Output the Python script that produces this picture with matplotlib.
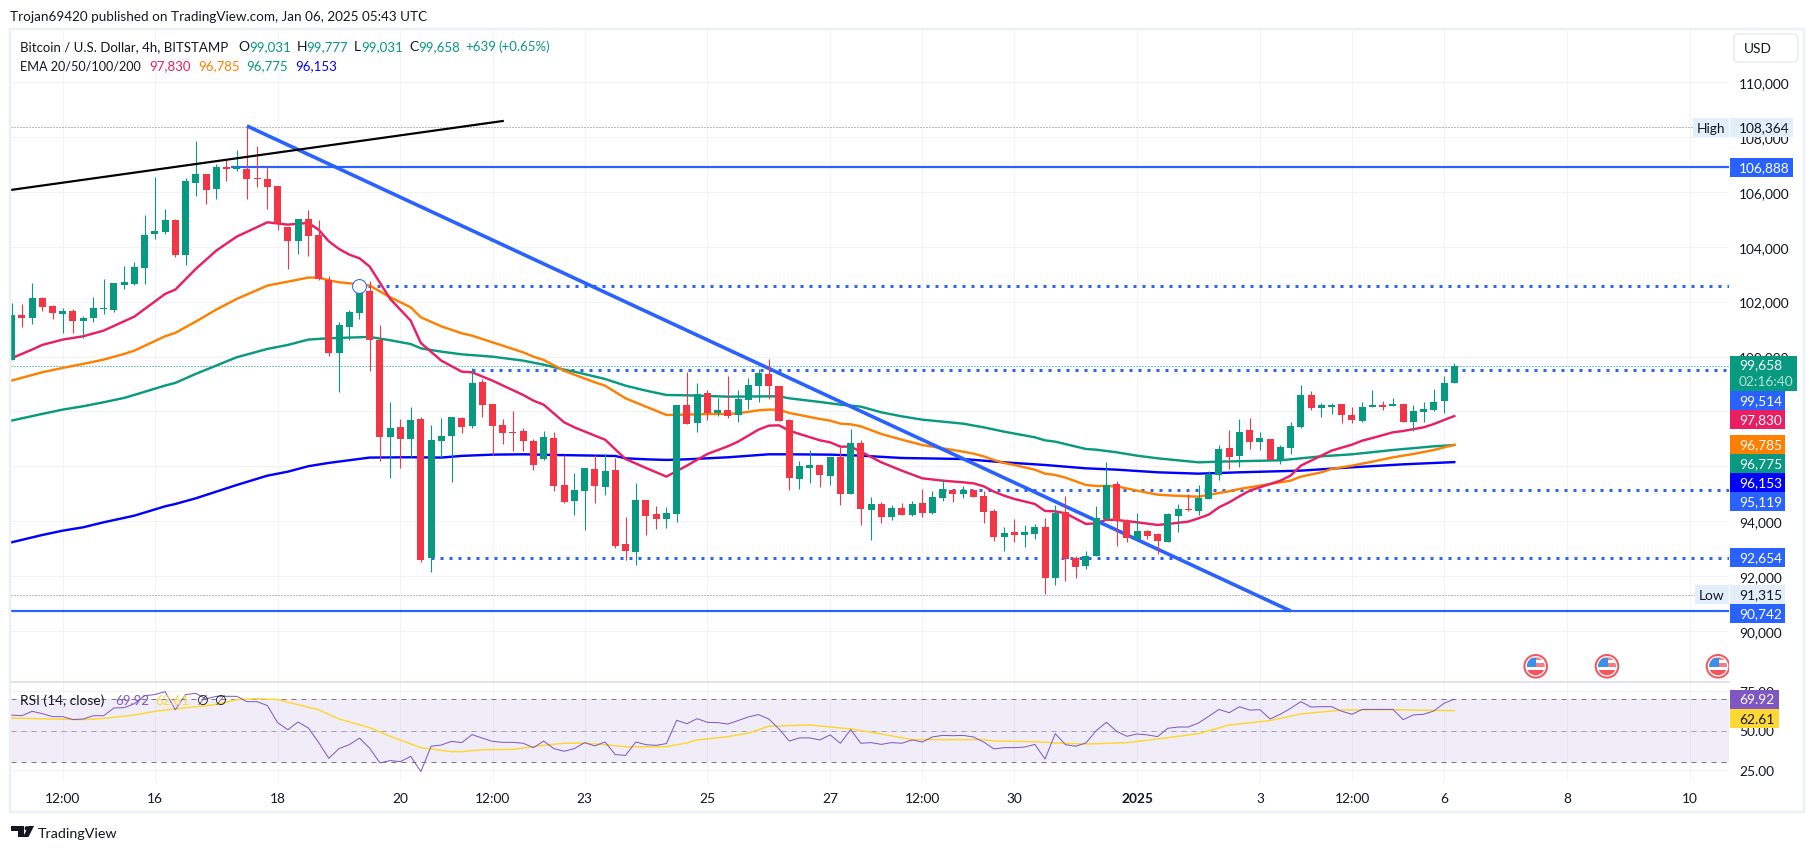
import matplotlib
matplotlib.use('Agg')
import matplotlib.pyplot as plt
from matplotlib.patches import Rectangle, Circle, Polygon, FancyBboxPatch

plt.rcParams['font.family'] = ['Lato', 'DejaVu Sans']

# candles, 4h, oldest first
opens = [99875, 101514, 101405, 102133, 101842, 101551, 101660, 101296, 101405, 101733,
         101696, 102607, 102643, 103226, 104464, 104537, 104974, 103699, 106322, 106649,
         106103, 106904, 106844, 106832, 106504, 106467, 106212, 104719, 104209, 105011,
         104428, 102789, 100130, 101077, 101587, 102388, 100604, 97068, 97433, 96996,
         97724, 92662, 96923, 97105, 97760, 97469, 99072, 98270, 97505, 97250,
         97287, 96923, 96267, 97032, 95320, 94738, 95102, 95903, 95248, 95867,
         93171, 92880, 94774, 94264, 94082, 94264, 98234, 97578, 98671, 97943,
         98052, 97870, 98416, 98926, 99363, 98926, 97688, 95539, 95939, 96049,
         95648, 96340, 94992, 96850, 94409, 94628, 94154, 94482, 94227, 94664,
         94300, 94846, 95137, 94992, 95137, 94919, 94373, 93426, 93608, 93498,
         93535, 93790, 91932, 94336, 92661, 92370, 92734, 94081, 95356, 94045,
         93353, 93644, 93535, 93244, 94190, 94445, 94373, 94810, 95684, 96667,
         96376, 97323, 96886, 96995, 96230, 96667, 97432, 98597, 98124, 98160,
         98270, 97869, 97651, 98160, 98233, 98197, 98270, 97614, 97978, 98051,
         98379, 99031]
highs = [101951, 101915, 102680, 102170, 101878, 101757, 101733, 101478, 102170, 102825,
         102680, 103299, 103444, 105156, 106540, 105375, 105011, 106504, 107851, 106649,
         107014, 107147, 107524, 108364, 107669, 106904, 106212, 104719, 105011, 105338,
         104974, 102935, 101259, 101696, 102643, 102753, 101150, 98343, 97724, 98161,
         97797, 97505, 97760, 97797, 97797, 99581, 99181, 98270, 97724, 98015,
         97396, 96996, 97287, 97250, 96413, 95757, 95939, 96413, 96449, 96304,
         94155, 95393, 94774, 94555, 94519, 98234, 99436, 99035, 98780, 98489,
         99290, 98780, 99217, 99545, 99909, 98926, 97724, 96194, 96595, 96049,
         96340, 96777, 97360, 96959, 94882, 94700, 94591, 94664, 94737, 95174,
         95101, 95538, 95137, 95283, 95137, 95101, 94445, 93790, 94081, 93863,
         93899, 94118, 94591, 94919, 92734, 92916, 94555, 96157, 95465, 94081,
         94300, 93681, 93571, 94300, 94628, 94992, 95319, 95829, 96776, 97323,
         97723, 97760, 97250, 96995, 96776, 97614, 98962, 98743, 98306, 98306,
         98270, 98160, 98343, 98780, 98379, 98488, 98270, 98233, 98343, 98816,
         99289, 99777]
lows = [99875, 101077, 101186, 101660, 101369, 100859, 100859, 100689, 101259, 101551,
        101623, 102461, 102607, 102643, 104282, 104464, 103627, 103335, 105848, 105557,
        105739, 106395, 106759, 105739, 106176, 105375, 104610, 103190, 103736, 103663,
        102789, 100021, 98710, 100604, 101369, 99475, 96197, 95575, 95939, 96340,
        92516, 92152, 96304, 95430, 97214, 97396, 97797, 96413, 96814, 96559,
        96559, 95867, 96231, 95102, 94665, 94228, 93681, 94665, 94956, 93026,
        92589, 92407, 93499, 93718, 93754, 93973, 97542, 97250, 97688, 97833,
        97760, 97615, 98088, 98343, 98452, 97651, 95138, 95175, 95393, 95248,
        95320, 94592, 94992, 93863, 93316, 93936, 94045, 94227, 94190, 94154,
        94263, 94737, 94700, 94846, 94882, 93936, 93280, 92916, 93244, 93061,
        93353, 91350, 91677, 91823, 91932, 92260, 92734, 94081, 93098, 93244,
        93353, 93353, 92807, 93244, 93608, 94373, 94227, 94810, 95502, 95902,
        95975, 96631, 96594, 96230, 96085, 96449, 97396, 98051, 97796, 97905,
        97578, 97578, 97614, 98160, 98051, 98197, 97614, 97286, 97614, 98015,
        97942, 99031]
closes = [101514, 101417, 102133, 101806, 101587, 101660, 101296, 101405, 101769, 101769,
          102680, 102716, 103262, 104428, 104574, 104974, 103699, 106395, 106649, 106067,
          106904, 106844, 106904, 106467, 106467, 106176, 104865, 104209, 105011, 104391,
          102825, 100130, 101150, 101623, 102316, 100604, 97071, 97396, 96996, 97688,
          92601, 96959, 97105, 97797, 97433, 99035, 98234, 97469, 97214, 97214,
          96923, 96049, 97068, 95284, 94701, 95138, 95939, 95284, 95830, 93099,
          92917, 94774, 94191, 94082, 94301, 98234, 97542, 98635, 97943, 98052,
          97833, 98452, 98962, 99399, 98926, 97651, 95575, 96012, 96049, 95684,
          96340, 94992, 96850, 94446, 94628, 94154, 94482, 94227, 94628, 94300,
          94882, 95174, 94992, 95137, 94882, 94336, 93426, 93571, 93498, 93608,
          93790, 91932, 94300, 92624, 92333, 92734, 94118, 95319, 94008, 93389,
          93644, 93462, 93280, 94263, 94445, 94409, 94846, 95720, 96631, 96339,
          97250, 96886, 97031, 96230, 96704, 97468, 98597, 98124, 98233, 98233,
          97869, 97687, 98160, 98233, 98160, 98270, 97614, 98015, 98088, 98343,
          99034, 99658]

# moving averages, read at the candles where the line bends
ema20_x = [0, 2, 3, 5, 7, 9, 12, 15, 16, 18, 20, 22, 25, 27, 29, 30, 31, 32, 33, 34, 35, 37, 39,
           40, 42, 44, 45, 47, 50, 51, 52, 54, 55, 57, 58, 60, 62, 64, 66, 68, 70, 71, 73, 74, 75, 76, 77, 79, 80, 81, 82, 83,
           85, 87, 89, 91, 93, 94, 95, 96, 97, 98, 100, 101, 102, 103, 105, 106, 107, 108, 110, 112, 113, 115,
           116, 117, 118, 119, 120, 121, 123, 124, 125, 126, 128, 129, 131, 132, 133, 135, 136, 138, 139, 140, 141]
ema20_y = [99936, 100252, 100422, 100616, 100737, 100944, 101454, 102279, 102437, 103190, 103857, 104367, 104889, 104804, 104865, 104622, 104197, 103918, 103712, 103578, 103275, 102097, 101308,
           100492, 99848, 99448, 99424, 99120, 98598, 98392, 98246, 97603, 97420, 97117, 96971, 96267, 95939, 95624, 96024, 96449, 96729, 96898, 97336, 97481, 97493, 97299, 97178, 96947, 96874, 96716, 96716, 96534,
           96145, 95842, 95562, 95477, 95417, 95380, 95271, 95077, 94931, 94810, 94628, 94373, 94360, 94288, 93899, 93923, 94057, 94045, 93960, 93863, 93899, 93984,
           94106, 94239, 94506, 94688, 94907, 95113, 95356, 95478, 95660, 96024, 96388, 96570, 96789, 96934, 97031, 97238, 97286, 97420, 97541, 97687, 97830]
ema50_x = [0, 3, 5, 7, 9, 11, 12, 15, 16, 18, 20, 22, 25, 27, 29, 30, 31, 32, 33, 35, 37, 39, 40,
           42, 44, 45, 47, 50, 51, 52, 54, 55, 57, 58, 60, 62, 64, 66, 68, 70, 71, 73, 74, 75, 76, 77, 79, 80, 81, 82, 83,
           85, 87, 89, 91, 93, 94, 95, 96, 97, 98, 100, 101, 102, 103, 105, 106, 107, 108, 110, 112, 113, 115,
           116, 118, 119, 120, 121, 123, 125, 126, 128, 129, 131, 133, 135, 137, 139, 141]
ema50_y = [99123, 99426, 99584, 99730, 99887, 100094, 100215, 100737, 100859, 101272, 101709, 102097, 102583, 102728, 102874, 102874, 102777, 102704, 102668, 102583, 102158, 101793, 101429,
           101099, 100844, 100759, 100516, 100152, 99994, 99873, 99484, 99339, 99059, 98938, 98477, 98173, 97870, 97882, 97906, 97906, 97930, 98040, 98064, 98064, 97943, 97870, 97724, 97663, 97554, 97530, 97457,
           97177, 96970, 96776, 96655, 96533, 96461, 96364, 96230, 96121, 96048, 95878, 95732, 95684, 95587, 95319, 95283, 95283, 95271, 95113, 94967, 94943, 94907,
           94894, 95028, 95089, 95174, 95235, 95356, 95478, 95623, 95781, 95902, 96024, 96169, 96327, 96449, 96594, 96785]
ema100_x = [0, 3, 5, 7, 9, 11, 12, 15, 16, 18, 20, 22, 25, 27, 29, 31, 33, 35, 37, 39,
            40, 42, 44, 47, 50, 52, 54, 55, 58, 60, 62, 64, 66, 70, 74, 75, 76, 79, 81, 83,
            85, 87, 89, 91, 93, 95, 97, 100, 101, 102, 105, 106, 108, 110, 112, 115,
            116, 118, 121, 124, 126, 128, 131, 135, 139, 141]
ema100_y = [97666, 97909, 98066, 98188, 98334, 98491, 98601, 98941, 99038, 99366, 99669, 99972, 100276, 100422, 100616, 100665, 100689, 100713, 100592, 100455,
            100298, 100176, 100079, 99994, 99849, 99703, 99521, 99448, 99181, 98938, 98756, 98598, 98586, 98537, 98549, 98549, 98477, 98343, 98246, 98173,
            97966, 97820, 97699, 97626, 97553, 97420, 97262, 97056, 96946, 96898, 96631, 96606, 96509, 96388, 96291, 96181,
            96145, 96169, 96194, 96218, 96291, 96364, 96437, 96594, 96728, 96775]
ema200_x = [0, 3, 5, 7, 9, 12, 15, 16, 18, 20, 22, 25, 27, 29, 31, 35, 39, 42, 44, 47,
            50, 53, 57, 59, 60, 62, 64, 66, 70, 74, 76, 80, 83, 87, 93, 97, 101, 105, 108, 112,
            116, 120, 126, 131, 136, 141]
ema200_y = [93231, 93498, 93656, 93778, 93960, 94202, 94542, 94627, 94834, 95076, 95319, 95659, 95805, 96003, 96124, 96318, 96330, 96318, 96379, 96425,
            96437, 96413, 96389, 96376, 96291, 96255, 96231, 96255, 96328, 96437, 96437, 96425, 96388, 96303, 96266, 96145, 96048, 95926, 95878, 95781,
            95732, 95781, 95842, 95963, 96072, 96153]

rsi = [59.8, 59.4, 62.2, 60.7, 58.8, 58.8, 56.9, 57.3, 59.4, 59.4, 64.3, 64.5, 67.0, 72.1, 72.8, 74.7, 63.2, 72.8, 73.6, 70.0,
       71.7, 71.7, 71.7, 68.3, 68.3, 65.8, 55.0, 50.5, 55.4, 51.6, 42.5, 32.3, 38.5, 41.0, 45.2, 38.7, 29.4, 30.9, 30.2, 33.6,
       23.9, 40.0, 40.8, 43.1, 42.3, 47.4, 45.2, 43.1, 42.5, 42.5, 41.9, 39.1, 43.3, 38.5, 36.8, 38.5, 42.3, 40.2, 42.7, 34.7,
       34.2, 42.7, 41.0, 40.6, 41.7, 56.5, 54.3, 57.5, 55.2, 55.0, 54.1, 56.3, 58.6, 60.1, 57.3, 51.0, 43.3, 45.3, 45.3, 44.0,
       47.2, 41.9, 50.5, 41.9, 42.3, 41.2, 42.3, 41.9, 44.0, 42.7, 45.9, 46.9, 46.7, 46.9, 45.9, 42.7, 38.3, 39.1, 39.1, 39.5,
       41.2, 31.9, 48.0, 41.0, 40.0, 42.1, 49.9, 55.2, 49.5, 46.3, 47.8, 47.2, 46.1, 51.4, 52.2, 52.2, 54.8, 59.0, 63.4, 61.3,
       65.1, 63.0, 63.2, 57.3, 60.3, 64.1, 68.3, 64.9, 65.1, 65.1, 62.2, 60.3, 63.4, 63.4, 63.4, 63.4, 56.9, 59.9, 60.3, 62.4,
       67.3, 69.92]
rsi_ma_x = [0, 4, 7, 9, 12, 14, 16, 18, 20, 22, 24, 26, 28, 30, 32, 35, 37, 40, 43, 44, 46, 49, 52, 54, 56, 58, 60, 64, 66,
            67, 70, 72, 74, 78, 82, 85, 88, 95, 96, 100, 102, 105, 109, 112, 116, 119, 123, 126, 130, 135, 141]
rsi_ma_y = [57.9, 57.3, 56.9, 57.7, 59.8, 62.2, 63.7, 65.1, 66.6, 69.6, 70.2, 69.6, 66.4, 63.2, 57.3, 51.8, 46.3, 39.1, 36.6, 36.6, 37.8, 38.0, 40.6, 41.9, 41.9, 41.0, 39.7, 39.7, 42.1,
            44.0, 46.1, 48.4, 52.7, 53.5, 51.0, 47.8, 44.2, 44.2, 43.3, 42.9, 42.1, 41.4, 42.3, 44.6, 48.0, 53.5, 56.3, 60.5, 63.0, 63.2, 62.61]

price_ticks = [110000, 108000, 106000, 104000, 102000, 100000, 98000, 96000, 94000, 92000, 90000]
# 98,000 and 96,000 sit fully under the price tags
price_labels = ['110,000', '108,000', '106,000', '104,000', '102,000', '100,000', '', '', '94,000', '92,000', '90,000']
rsi_ticks = [75, 50, 25]
time_ticks = [5, 14, 26, 38, 47, 56, 68, 80, 89, 98, 110, 122, 131, 140, 152, 164]
time_labels = ['12:00', '16', '18', '20', '12:00', '23', '25', '27', '12:00', '30', '2025', '3', '12:00', '6', '8', '10']

last_price = 99658
high_price = 108364
low_price = 91315
hline_solid = [106888, 90742]
# dotted level and the candle it starts from
dotted_levels = [102568, 99514, 95119, 92654]
dotted_starts = [34, 45, 91, 41]
# drawn trend lines, (candle, price) ends
black_x = [-0.1, 48]
black_y = [106066, 108579]
blue_x = [23, 125]
blue_y = [108400, 90730]

GREEN = '#089981'
RED = '#F23645'
BLUE = '#2962FF'
PINK = '#E91E63'
ORANGE = '#FF7F00'
EMA_BLUE = '#0000FF'
PURPLE = '#7E57C2'
YELLOW = '#FDD835'
TEXT = '#131722'
GRID = '#f2f3f6'
W, H = 1814, 853
PX = 0.72  # one pixel in points at dpi 100

# pixel scale of the picture
X0, DX = 11.6, 10.232
Y110K, PX_PER_USD = 83, 0.02745
def x_data(px):
    return (px - X0) / DX
def price_at(py):
    return 110000 - (py - Y110K) / PX_PER_USD
def rsi_at(py):
    return 50 + (731.5 - py) / 1.575
def axes_rect(left, top, right, bottom):
    return [left / W, 1 - bottom / H, (right - left) / W, (bottom - top) / H]

fig = plt.figure(figsize=(W / 100, H / 100), dpi=100)
ax = fig.add_axes(axes_rect(11, 31, 1729, 683))
ax_rsi = fig.add_axes(axes_rect(11, 684, 1729, 782))

AXIS_FS = 9.9
for a in (ax, ax_rsi):
    a.set_xlim(x_data(11), x_data(1729))
    a.set_xticks(time_ticks)
    a.grid(True, color=GRID, lw=PX, zorder=0)
    a.set_axisbelow(True)
    a.yaxis.tick_right()
    for s in a.spines.values():
        s.set_visible(False)

ax.set_ylim(price_at(683), price_at(31))
ax.set_yticks(price_ticks)
ax.set_yticklabels(price_labels)
ax.tick_params(axis='x', length=0, labelbottom=False)
ax.tick_params(axis='y', length=0, pad=7.2, labelsize=AXIS_FS, labelcolor=TEXT)

# levels
ax.axhline(high_price, color='#787b86', lw=PX, ls=(0, (1, 2)), zorder=2)
ax.axhline(low_price, color='#787b86', lw=PX, ls=(0, (1, 2)), zorder=2)
ax.axhline(last_price, color=GREEN, lw=PX, ls=(0, (1, 2)), zorder=2)
ax.plot([21.5, x_data(1729)], [hline_solid[0]] * 2, color=BLUE, lw=2.2 * PX, zorder=2)
ax.plot([x_data(11), x_data(1729)], [hline_solid[1]] * 2, color=BLUE, lw=2.2 * PX, zorder=2)
for level, start in zip(dotted_levels, dotted_starts):
    ax.plot([start, x_data(1729)], [level, level], color=BLUE, lw=3 * PX, ls=(0, (1, 2)), zorder=2)

# EMAs
ax.plot(ema200_x, ema200_y, color=EMA_BLUE, lw=2.4 * PX, zorder=3)
ax.plot(ema100_x, ema100_y, color=GREEN, lw=2.4 * PX, zorder=3)
ax.plot(ema50_x, ema50_y, color=ORANGE, lw=2.4 * PX, zorder=3)
ax.plot(ema20_x, ema20_y, color=PINK, lw=2.4 * PX, zorder=3)

ax.plot(blue_x, blue_y, color=BLUE, lw=3.6 * PX, zorder=4, solid_capstyle='butt')

# candles
idx = list(range(len(opens)))
colors = [GREEN if c >= o else RED for o, c in zip(opens, closes)]
ax.vlines(idx, lows, highs, colors=colors, lw=1.1 * PX, zorder=5)
ax.bar(idx, [abs(c - o) for o, c in zip(opens, closes)], bottom=[min(o, c) for o, c in zip(opens, closes)],
       width=7 / DX, color=colors, lw=0, zorder=5)

ax.plot(black_x, black_y, color='black', lw=2.2 * PX, zorder=6)
ax.plot([34], [102568], 'o', ms=10, mfc='white', mec=BLUE, mew=PX, zorder=7)

# rsi pane
ax_rsi.set_ylim(rsi_at(782), rsi_at(684))
ax_rsi.set_yticks(rsi_ticks)
ax_rsi.set_yticklabels([f'{v:.2f}' for v in rsi_ticks])
ax_rsi.set_xticklabels(time_labels)
ax_rsi.tick_params(axis='y', length=0, pad=7.2, labelsize=AXIS_FS, labelcolor=TEXT)
ax_rsi.tick_params(axis='x', length=0, pad=8, labelsize=AXIS_FS, labelcolor=TEXT)
for lab in ax_rsi.get_xticklabels():
    if lab.get_text() == '2025':
        lab.set_fontweight('bold')
ax_rsi.axhspan(30, 70, color=PURPLE, alpha=0.1, lw=0, zorder=1)
ax_rsi.axhline(70, color='#787b86', lw=PX, ls=(0, (5, 5)), zorder=2)
ax_rsi.axhline(50, color='#787b86', alpha=0.6, lw=PX, ls=(0, (5, 5)), zorder=2)
ax_rsi.axhline(30, color='#787b86', lw=PX, ls=(0, (5, 5)), zorder=2)
ax_rsi.plot(rsi_ma_x, rsi_ma_y, color=YELLOW, lw=1.5 * PX, zorder=3)
ax_rsi.plot(idx, rsi, color=PURPLE, lw=PX, zorder=4)

# page furniture in pixel coordinates
page = fig.add_axes([0, 0, 1, 1], facecolor='none')
page.set_xlim(0, W)
page.set_ylim(H, 0)
page.axis('off')

page.add_patch(Rectangle((10, 30), 1793.5, 783, fill=False, ec='#eef0f7', lw=2.5 * PX))
page.plot([11, 1729], [683, 683], color='#e3e3f0', lw=2 * PX)

FS = 9.9
NUM_FS = 9.5
page.text(10, 17, 'Trojan69420 published on TradingView.com, Jan 06, 2025 05:43 UTC', fontsize=9.7, color=TEXT, va='center')
legend1 = [(20, 'Bitcoin / U.S. Dollar, 4h, BITSTAMP', TEXT, 9.5), (238, 'O', TEXT, FS), (249, '99,031', GREEN, NUM_FS),
           (297, 'H', TEXT, FS), (306, '99,777', GREEN, NUM_FS), (354, 'L', TEXT, FS), (361, '99,031', GREEN, NUM_FS),
           (409, 'C', TEXT, FS), (418, '99,658', GREEN, NUM_FS), (465, '+639', GREEN, NUM_FS), (498, '(+0.65%)', GREEN, NUM_FS)]
for x, s, c, size in legend1:
    page.text(x, 47, s, fontsize=size, color=c, va='center')
legend2 = [(20, 'EMA 20/50/100/200', TEXT, 9.1), (149, '97,830', PINK, NUM_FS), (198, '96,785', ORANGE, NUM_FS),
           (246, '96,775', GREEN, NUM_FS), (295, '96,153', EMA_BLUE, NUM_FS)]
for x, s, c, size in legend2:
    page.text(x, 66, s, fontsize=size, color=c, va='center')
legend3 = [(20, 'RSI (14, close)', TEXT, FS), (115, '69.92', PURPLE, NUM_FS), (155, '62.61', YELLOW, NUM_FS),
           (197, '∅', TEXT, FS), (215, '∅', TEXT, FS)]
for x, s, c, size in legend3:
    page.text(x, 701, s, fontsize=size, color=c, va='center')

def tag(text, top, right, bg, fg='white', left=1730):
    page.add_patch(Rectangle((left, top), right - left, 19, fc=bg, ec='none'))
    page.text(left + 9, top + 9.5, text, fontsize=AXIS_FS, color=fg, va='center')

page.add_patch(Rectangle((1730, 357), 67, 35, fc=GREEN, ec='none'))
page.text(1739, 365.5, '99,658', fontsize=AXIS_FS, color='white', va='center')
page.text(1739, 382, '02:16:40', fontsize=AXIS_FS, color='#b5e0d8', va='center')
tag('108,364', 119, 1793, '#e3eefb', TEXT)
tag('106,888', 159, 1793, BLUE)
tag('99,514', 392, 1785, BLUE)
tag('97,830', 411, 1785, PINK)
tag('96,785', 436, 1785, ORANGE)
tag('96,775', 455, 1785, GREEN)
tag('96,153', 474, 1785, EMA_BLUE)
tag('95,119', 493, 1785, BLUE)
tag('92,654', 549, 1785, BLUE)
tag('91,315', 586, 1785, '#e3eefb', TEXT)
tag('90,742', 605, 1785, BLUE)
tag('69.92', 691, 1779, PURPLE)
tag('62.61', 710, 1779, YELLOW, TEXT)
page.add_patch(Rectangle((1693, 119), 36, 19, fc='#e3eefb', ec='none'))
page.text(1711, 128.5, 'High', fontsize=AXIS_FS, color=TEXT, va='center', ha='center')
page.add_patch(Rectangle((1695, 586), 34, 19, fc='#e3eefb', ec='none'))
page.text(1712, 595.5, 'Low', fontsize=AXIS_FS, color=TEXT, va='center', ha='center')

page.add_patch(FancyBboxPatch((1737, 38), 58, 22, boxstyle='round,pad=3,rounding_size=5', fc='white', ec='#e8eaf2', lw=1.5 * PX))
page.text(1744, 49, 'USD', fontsize=FS, color=TEXT, va='center')

# economic event flags
edge = Rectangle((0, 0), 1729, H, transform=page.transData)
for fx in [1535.7, 1607, 1718]:
    fy = 667.3
    ring = Circle((fx, fy), 11.3, fc='white', ec='#f4565f', lw=2 * PX)
    page.add_patch(ring)
    ring.set_clip_path(edge)
    inner = Circle((fx, fy), 9, transform=page.transData)
    for bx, by, bw, bh, col in [(fx - 9, fy - 9, 18, 2.5, '#f77c80'), (fx, fy - 3, 9, 4, '#f77c80'),
                                (fx - 9, fy + 3.5, 18, 6, '#f4565f'), (fx - 9, fy - 8, 9.5, 9, '#3d8fe8')]:
        bar = Rectangle((bx, by), bw, bh, fc=col, ec='none')
        page.add_patch(bar)
        bar.set_clip_path(inner)
# white strip keeps the clipped flag inside the pane
page.add_patch(Rectangle((1729, 650), 25, 32, fc='white', ec='none'))

# TradingView logo
page.add_patch(Polygon([(11, 827), (24, 827), (24, 838), (18, 838), (18, 831.5), (11, 831.5)], fc='#131722', ec='none'))
page.add_patch(Circle((26.8, 829.3), 2.2, fc='#131722', ec='none'))
page.add_patch(Polygon([(28.5, 827), (34, 827), (28.5, 838), (23, 838)], fc='#131722', ec='none'))
page.text(38, 834.5, 'TradingView', fontsize=10.3, color=TEXT, va='center')

fig.savefig('out.png', dpi=100, facecolor='white')
